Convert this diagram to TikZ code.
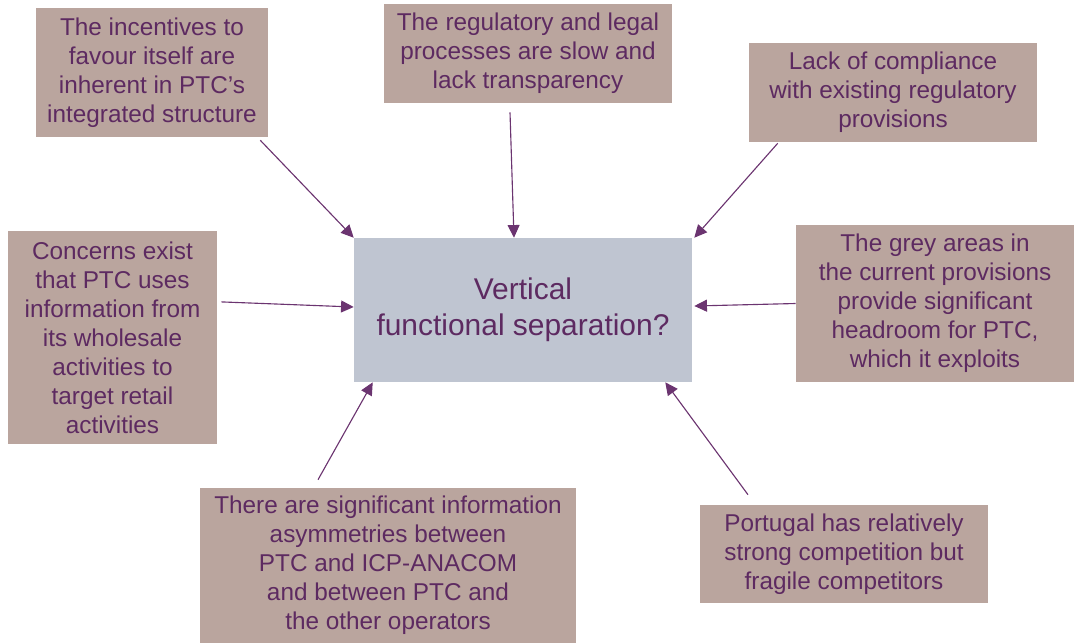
\documentclass[tikz,border=0pt]{standalone}
\usepackage{fontspec}
\setmainfont{Liberation Sans}
\usetikzlibrary{arrows.meta, positioning, calc}
\definecolor{issue_brown}{RGB}{186, 165, 158}
\definecolor{core_gray}{RGB}{191, 197, 209}
\definecolor{plum}{RGB}{93, 42, 97}
\definecolor{arrow_plum}{RGB}{107, 52, 112}

\begin{document}
\begin{tikzpicture}[
    issue/.style={
        rectangle,
        fill=issue_brown,
        text=plum,
        align=center,
        inner sep=2pt,
        font=\fontsize{17.3}{20.6}\selectfont
    },
    core/.style={
        rectangle,
        fill=core_gray,
        text=plum,
        align=center,
        minimum width=8.45cm,
        minimum height=3.6cm,
        font=\fontsize{21.3}{25.5}\selectfont
    },
    arrow/.style={
        -{Triangle[length=9pt,width=8.5pt]},
        line width=0.8pt,
        arrow_plum
    }
]

% Page frame
\useasboundingbox (0,0) rectangle (26.875,-16.075);

% Central question
\node[core] (question) at (13.075,-7.75) {Vertical\\functional separation?};

% Issue boxes round the question
\node[issue, minimum width=5.8cm, minimum height=3.225cm] (incentives) at (3.8,-1.8125)
    {The incentives to\\favour itself are\\inherent in PTC's\\integrated structure};
\node[issue, minimum width=7.2cm, minimum height=2.475cm] (processes) at (13.2,-1.3375)
    {The regulatory and legal\\processes are slow and\\lack transparency};
\node[issue, minimum width=7.2cm, minimum height=2.475cm] (compliance) at (22.325,-2.3125)
    {Lack of compliance\\with existing regulatory\\provisions};
\node[issue, minimum width=5.225cm, minimum height=5.325cm] (concerns) at (2.8125,-8.4375)
    {Concerns exist\\that PTC uses\\information from\\its wholesale\\activities to\\target retail\\activities};
\node[issue, minimum width=6.95cm, minimum height=3.925cm] (greyareas) at (23.375,-7.5875)
    {The grey areas in\\the current provisions\\provide significant\\headroom for PTC,\\which it exploits};
\node[issue, minimum width=9.4cm, minimum height=3.875cm] (asymmetries) at (9.7,-14.1375)
    {There are significant information\\asymmetries between\\PTC and ICP-ANACOM\\and between PTC and\\the other operators};
\node[issue, minimum width=7.2cm, minimum height=2.45cm] (competition) at (21.1,-13.85)
    {Portugal has relatively\\strong competition but\\fragile competitors};

% Arrows into the question
\draw[arrow] ($(incentives.south east)+(-0.2,-0.075)$) -- (question.north west);
\draw[arrow] ($(processes.south)+(-0.45,-0.225)$) -- ($(question.north)+(-0.225,0)$);
\draw[arrow] ($(compliance.south west)+(0.725,-0.025)$) -- ($(question.north east)+(0.05,0)$);
\draw[arrow] ($(concerns.east)+(0.1,0.89)$) -- ($(question.west)+(0,0.075)$);
\draw[arrow] (greyareas.west) -- ($(question.east)+(0.05,0.1)$);
\draw[arrow] ($(asymmetries.north)+(-1.75,0.2)$) -- ($(question.south west)+(0.475,0)$);
\draw[arrow] ($(competition.north)+(-2.4,0.25)$) -- ($(question.south east)+(-0.675,0)$);

\end{tikzpicture}
\end{document}
